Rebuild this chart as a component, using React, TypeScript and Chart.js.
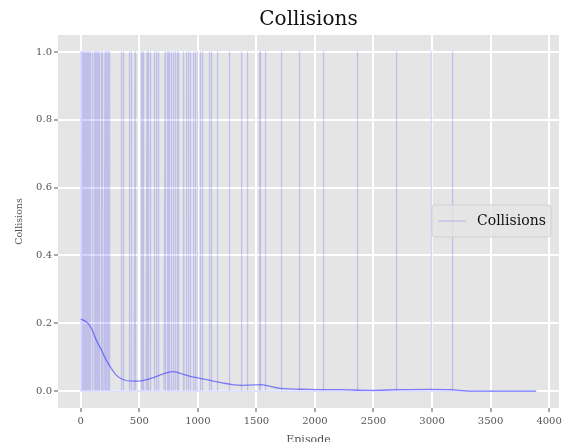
import React, { useEffect, useRef } from "react";
import { Chart, registerables } from "chart.js";

Chart.register(...registerables);

const CHART_TITLE = "Collisions";
const X_LABEL = "Episode";
const Y_LABEL = "Collisions";
const LEGEND_LABEL = "Collisions";

const LAST_EPISODE = 3890;

// episodes in which a collision happened (value 1), all others are 0
const COLLISION_EPISODES = [
  0, 3, 6, 9, 11, 14, 17, 20, 23, 26, 29, 32, 35, 38, 41, 44, 48, 51, 55, 58, 62, 66, 70, 74, 78, 82,
  85, 100, 114, 123, 134, 140, 148, 162, 174, 185, 207, 221, 233, 242, 350, 365, 419, 431, 464, 520,
  527, 538, 566, 581, 593, 630, 648, 666, 720, 738, 750, 761, 775, 790, 809, 823, 834, 881, 903, 920,
  940, 963, 983, 997, 1020, 1041, 1100, 1114, 1170, 1273, 1374, 1424, 1524, 1536, 1581, 1712, 1869,
  2074, 2365, 2698, 2997, 3174,
];

// smoothed collision rate
const SMOOTH_EPISODES = [
  0, 48, 91, 133, 176, 218, 261, 303, 359, 444, 529, 614, 699, 784, 869, 954, 1039, 1124, 1209,
  1293, 1378, 1492, 1540, 1577, 1640, 1704, 1945, 2228, 2482, 2709, 2992, 3162, 3332, 3890,
];
const SMOOTH_VALUES = [
  0.212, 0.204, 0.185, 0.15, 0.121, 0.091, 0.067, 0.047, 0.034, 0.029, 0.031, 0.039, 0.05, 0.057,
  0.05, 0.042, 0.036, 0.03, 0.024, 0.019, 0.017, 0.018, 0.019, 0.017, 0.012, 0.008, 0.005, 0.004,
  0.002, 0.004, 0.005, 0.004, 0.0, 0.0,
];

const X_TICKS = [0, 500, 1000, 1500, 2000, 2500, 3000, 3500, 4000];
const Y_TICKS = [0, 0.2, 0.4, 0.6, 0.8, 1.0];
const X_MIN = -194.5;
const X_MAX = 4084.5;
const Y_MIN = -0.05;
const Y_MAX = 1.05;

const SERIF = "'DejaVu Serif', 'Liberation Serif', serif";
const RAW_COLOR = "rgba(60, 60, 255, 0.22)";
const SMOOTH_COLOR = "rgba(40, 40, 255, 0.55)";

export default function App() {
  const canvasRef = useRef<HTMLCanvasElement | null>(null);

  useEffect(() => {
    document.body.style.margin = "0";
    const canvas = canvasRef.current;
    if (!canvas) return;

    const collisionSet = new Set(COLLISION_EPISODES);
    const rawData: { x: number; y: number }[] = [];
    for (let ep = 0; ep <= LAST_EPISODE; ep++) {
      rawData.push({ x: ep, y: collisionSet.has(ep) ? 1 : 0 });
    }
    const smoothData = SMOOTH_EPISODES.map((x, i) => ({ x, y: SMOOTH_VALUES[i] }));

    const bgPlugin = {
      id: "plotBg",
      beforeDraw(chart: any) {
        const { ctx, chartArea } = chart;
        ctx.save();
        ctx.fillStyle = "#E5E5E5";
        ctx.fillRect(chartArea.left, chartArea.top, chartArea.right - chartArea.left, chartArea.bottom - chartArea.top);
        ctx.restore();
      },
    };

    const decorPlugin = {
      id: "decor",
      afterDraw(chart: any) {
        const { ctx, chartArea } = chart;
        ctx.save();
        // title
        ctx.fillStyle = "#111";
        ctx.font = `20px ${SERIF}`;
        ctx.textAlign = "center";
        ctx.textBaseline = "middle";
        ctx.fillText(CHART_TITLE, (chartArea.left + chartArea.right) / 2, 20);

        // legend
        const lx = 432, ly = 205, lw = 119, lh = 32, r = 3;
        ctx.beginPath();
        ctx.moveTo(lx + r, ly);
        ctx.lineTo(lx + lw - r, ly);
        ctx.quadraticCurveTo(lx + lw, ly, lx + lw, ly + r);
        ctx.lineTo(lx + lw, ly + lh - r);
        ctx.quadraticCurveTo(lx + lw, ly + lh, lx + lw - r, ly + lh);
        ctx.lineTo(lx + r, ly + lh);
        ctx.quadraticCurveTo(lx, ly + lh, lx, ly + lh - r);
        ctx.lineTo(lx, ly + r);
        ctx.quadraticCurveTo(lx, ly, lx + r, ly);
        ctx.closePath();
        ctx.fillStyle = "rgba(229,229,229,0.8)";
        ctx.fill();
        ctx.strokeStyle = "rgba(204,204,204,0.8)";
        ctx.lineWidth = 1;
        ctx.stroke();

        ctx.beginPath();
        ctx.moveTo(438, ly + lh / 2);
        ctx.lineTo(466, ly + lh / 2);
        ctx.strokeStyle = RAW_COLOR;
        ctx.lineWidth = 1.3;
        ctx.stroke();

        ctx.fillStyle = "#111";
        ctx.font = `14px ${SERIF}`;
        ctx.textAlign = "left";
        ctx.textBaseline = "middle";
        ctx.fillText(LEGEND_LABEL, 477, ly + lh / 2);
        ctx.restore();
      },
    };

    const chart = new Chart(canvas, {
      type: "line",
      data: {
        datasets: [
          {
            label: "smoothed",
            data: smoothData,
            borderColor: SMOOTH_COLOR,
            borderWidth: 1.3,
            pointRadius: 0,
            cubicInterpolationMode: "monotone",
            fill: false,
          },
          {
            label: LEGEND_LABEL,
            data: rawData,
            borderColor: RAW_COLOR,
            borderWidth: 1.3,
            borderJoinStyle: "round",
            pointRadius: 0,
            tension: 0,
            fill: false,
          },
        ],
      },
      options: {
        animation: false,
        responsive: false,
        devicePixelRatio: 1,
        parsing: false,
        normalized: true,
        layout: { padding: { top: 35, right: 3, bottom: 0, left: 0 } },
        plugins: {
          legend: { display: false },
          title: { display: false },
          tooltip: { enabled: false },
        },
        scales: {
          x: {
            type: "linear",
            min: X_MIN,
            max: X_MAX,
            afterBuildTicks: (scale: any) => {
              scale.ticks = X_TICKS.map((v) => ({ value: v }));
            },
            afterFit: (scale: any) => {
              scale.height = 34;
              scale.paddingLeft = 0;
              scale.paddingRight = 0;
            },
            ticks: {
              autoSkip: false,
              maxRotation: 0,
              padding: 3,
              color: "#555",
              font: { family: SERIF, size: 10 },
              callback: (v: any) => String(v),
            },
            grid: {
              color: "#FFFFFF",
              lineWidth: 2,
              tickLength: 4,
              tickColor: "#555",
              tickWidth: 1,
            },
            border: { display: false },
            title: {
              display: true,
              text: X_LABEL,
              color: "#555",
              font: { family: SERIF, size: 11, lineHeight: 1.2 },
              padding: { top: 0, bottom: -5 },
            },
          },
          y: {
            type: "linear",
            min: Y_MIN,
            max: Y_MAX,
            afterBuildTicks: (scale: any) => {
              scale.ticks = Y_TICKS.map((v) => ({ value: v }));
            },
            afterFit: (scale: any) => {
              scale.width = 58;
              scale.paddingTop = 0;
              scale.paddingBottom = 0;
            },
            ticks: {
              autoSkip: false,
              padding: 2,
              color: "#555",
              font: { family: SERIF, size: 10 },
              callback: (v: any) => Number(v).toFixed(1),
            },
            grid: {
              color: "#FFFFFF",
              lineWidth: 2,
              tickLength: 4,
              tickColor: "#555",
              tickWidth: 1,
            },
            border: { display: false },
            title: {
              display: true,
              text: Y_LABEL,
              color: "#555",
              font: { family: SERIF, size: 9.5, lineHeight: 1.2 },
              padding: { top: 14.3, bottom: 0 },
            },
          },
        },
      },
      plugins: [bgPlugin, decorPlugin],
    } as any);

    return () => {
      chart.destroy();
    };
  }, []);

  return (
    <div style={{ width: 562, height: 442, position: "relative" }}>
      <canvas ref={canvasRef} width={562} height={442} style={{ display: "block", width: 562, height: 442 }} />
    </div>
  );
}
